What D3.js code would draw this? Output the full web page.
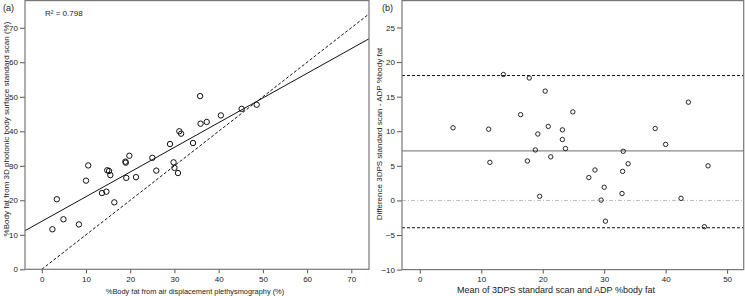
<!DOCTYPE html>
<html>
<head>
<meta charset="utf-8">
<script src="https://cdn.jsdelivr.net/npm/d3@7"></script>
<style>
  body { margin: 0; background: #fff; }
  svg { display: block; font-family: "Liberation Sans", Arial, sans-serif; }
  .frame { fill: none; stroke: #777; stroke-width: 1.2; }
  .tick text { font-size: 8px; fill: #222; }
  .tick line { stroke: #555; }
  .lbl { font-size: 8px; fill: #222; }
</style>
</head>
<body>
<svg id="chart" width="745" height="296"></svg>
<script>
// panel (a): ADP vs 3DPS
var adpX = [35.8, 35.9, 37.3, 40.5, 45.2, 48.6, 31.1, 31.5, 29.0, 34.2,
    19.8, 25.0, 10.5, 18.9, 19.0, 29.8, 30.0, 30.8, 25.9, 14.8,
    15.2, 15.5, 10.0, 19.1, 21.3, 13.6, 14.6, 16.4, 3.4, 4.9, 2.4, 8.4];
var scanY = [50.2, 42.2, 42.7, 44.6, 46.5, 47.7, 40.0, 39.3, 36.3, 36.6,
    32.9, 32.3, 30.1, 31.2, 30.9, 31.0, 29.4, 27.9, 28.6, 28.7,
    28.5, 27.3, 25.7, 26.5, 26.7, 22.1, 22.5, 19.4, 20.3, 14.5, 11.6, 13.0];
var fitLine = [13.9, 0.715];   // intercept, slope
var rSquared = "R\u00b2 = 0.798";
var xTicksA = [0, 10, 20, 30, 40, 50, 60, 70];
var yTicksA = [0, 10, 20, 30, 40, 50, 60, 70];

// panel (b): Bland-Altman
var meanX = [5.4, 11.2, 13.6, 17.8, 20.4, 16.4, 24.9, 20.9, 19.2, 23.2,
    23.2, 38.3, 40.0, 43.7, 18.8, 23.7, 33.1, 11.4, 17.5, 21.3,
    33.9, 46.9, 28.5, 33.0, 27.5, 30.0, 19.5, 32.9, 29.5, 42.5, 30.2, 46.3];
var diffY = [10.5, 10.3, 18.2, 17.7, 15.8, 12.4, 12.8, 10.7, 9.6, 10.2,
    8.8, 10.4, 8.1, 14.2, 7.3, 7.5, 7.1, 5.5, 5.7, 6.3,
    5.3, 5.0, 4.4, 4.2, 3.3, 1.9, 0.6, 1.0, 0.05, 0.3, -3.0, -3.8];
var meanDiff = 7.15;
var limits = [18.05, -3.95];
var xTicksB = [0, 10, 20, 30, 40, 50];
var yTicksB = [-10, -5, 0, 5, 10, 15, 20, 25];

var svg = d3.select("#chart");

// ---------- panel (a) ----------
var xA = d3.scaleLinear().domain([-3.8, 74]).range([25, 369]);
var yA = d3.scaleLinear().domain([0, 77.9]).range([269.3, 0.5]);

var gA = svg.append("g");
gA.append("g").attr("transform", "translate(0,269.3)")
    .call(d3.axisBottom(xA).tickValues(xTicksA).tickSize(4).tickPadding(3).tickFormat(d3.format("d")))
    .call(g => g.select(".domain").remove());
gA.append("g").attr("transform", "translate(25,0)")
    .call(d3.axisLeft(yA).tickValues(yTicksA).tickSize(5).tickPadding(2).tickFormat(d3.format("d")))
    .call(g => g.select(".domain").remove());

var clipA = svg.append("clipPath").attr("id", "clipA")
    .append("rect").attr("x", 25).attr("y", 0.5).attr("width", 344).attr("height", 268.8);

var plotA = gA.append("g").attr("clip-path", "url(#clipA)");
// identity line
plotA.append("line")
    .attr("x1", xA(0)).attr("y1", yA(0)).attr("x2", xA(74)).attr("y2", yA(74))
    .attr("stroke", "#111").attr("stroke-width", 1).attr("stroke-dasharray", "3,2");
// regression line
plotA.append("line")
    .attr("x1", xA(-3.8)).attr("y1", yA(fitLine[0] + fitLine[1] * -3.8))
    .attr("x2", xA(74)).attr("y2", yA(fitLine[0] + fitLine[1] * 74))
    .attr("stroke", "#111").attr("stroke-width", 1);

plotA.selectAll("circle").data(adpX).enter().append("circle")
    .attr("cx", d => xA(d))
    .attr("cy", (d, i) => yA(scanY[i]))
    .attr("r", 2.7)
    .attr("fill", "none").attr("stroke", "#111").attr("stroke-width", 1);

gA.append("rect").attr("class", "frame")
    .attr("x", 25).attr("y", 0.6).attr("width", 344).attr("height", 268.7);

gA.append("text").attr("class", "lbl").attr("x", 45).attr("y", 16).text(rSquared);
gA.append("text").attr("class", "lbl").attr("x", 3).attr("y", 11).style("font-size", "9px").text("(a)");
gA.append("text").attr("class", "lbl").attr("text-anchor", "middle").style("font-size", "7.4px")
    .attr("x", 195).attr("y", 294).text("%Body fat from air displacement plethysmography (%)");
gA.append("text").attr("class", "lbl").attr("text-anchor", "middle")
    .attr("transform", "translate(8.5,129) rotate(-90)")
    .text("%Body fat from 3D photonic body surface standard scan (%)");

// ---------- panel (b) ----------
var xB = d3.scaleLinear().domain([-2.9, 52.7]).range([402, 743.7]);
var yB = d3.scaleLinear().domain([-10, 28.9]).range([269.6, 0.5]);

var gB = svg.append("g");
gB.append("g").attr("transform", "translate(0,269.6)")
    .call(d3.axisBottom(xB).tickValues(xTicksB).tickSize(4).tickPadding(3).tickFormat(d3.format("d")))
    .call(g => g.select(".domain").remove());
gB.append("g").attr("transform", "translate(402,0)")
    .call(d3.axisLeft(yB).tickValues(yTicksB).tickSize(5).tickPadding(2).tickFormat(d3.format("d")))
    .call(g => g.select(".domain").remove());

// zero line
gB.append("line")
    .attr("x1", xB(-2.9)).attr("x2", xB(52.7)).attr("y1", yB(0)).attr("y2", yB(0))
    .attr("stroke", "#bbb").attr("stroke-width", 1).attr("stroke-dasharray", "4,2,1,2");
// mean difference
gB.append("line")
    .attr("x1", xB(-2.9)).attr("x2", xB(52.7)).attr("y1", yB(meanDiff)).attr("y2", yB(meanDiff))
    .attr("stroke", "#888").attr("stroke-width", 1.2);
// limits of agreement
gB.selectAll(".loa").data(limits).enter().append("line")
    .attr("class", "loa")
    .attr("x1", xB(-2.9)).attr("x2", xB(52.7)).attr("y1", d => yB(d)).attr("y2", d => yB(d))
    .attr("stroke", "#111").attr("stroke-width", 1).attr("stroke-dasharray", "3,2");

gB.selectAll("circle").data(meanX).enter().append("circle")
    .attr("cx", d => xB(d))
    .attr("cy", (d, i) => yB(diffY[i]))
    .attr("r", 2.2)
    .attr("fill", "none").attr("stroke", "#111").attr("stroke-width", 0.9);

gB.append("rect").attr("class", "frame")
    .attr("x", 402).attr("y", 0.6).attr("width", 341.7).attr("height", 269);

gB.append("text").attr("class", "lbl").attr("x", 382).attr("y", 11).style("font-size", "9px").text("(b)");
gB.append("text").attr("class", "lbl").attr("text-anchor", "middle").style("font-size", "9px")
    .attr("x", 556).attr("y", 293).text("Mean of 3DPS standard scan and ADP %body fat");
gB.append("text").attr("class", "lbl").attr("text-anchor", "middle")
    .attr("transform", "translate(381.5,134) rotate(-90)")
    .text("Difference 3DPS standard scan - ADP %body fat");
</script>
</body>
</html>
